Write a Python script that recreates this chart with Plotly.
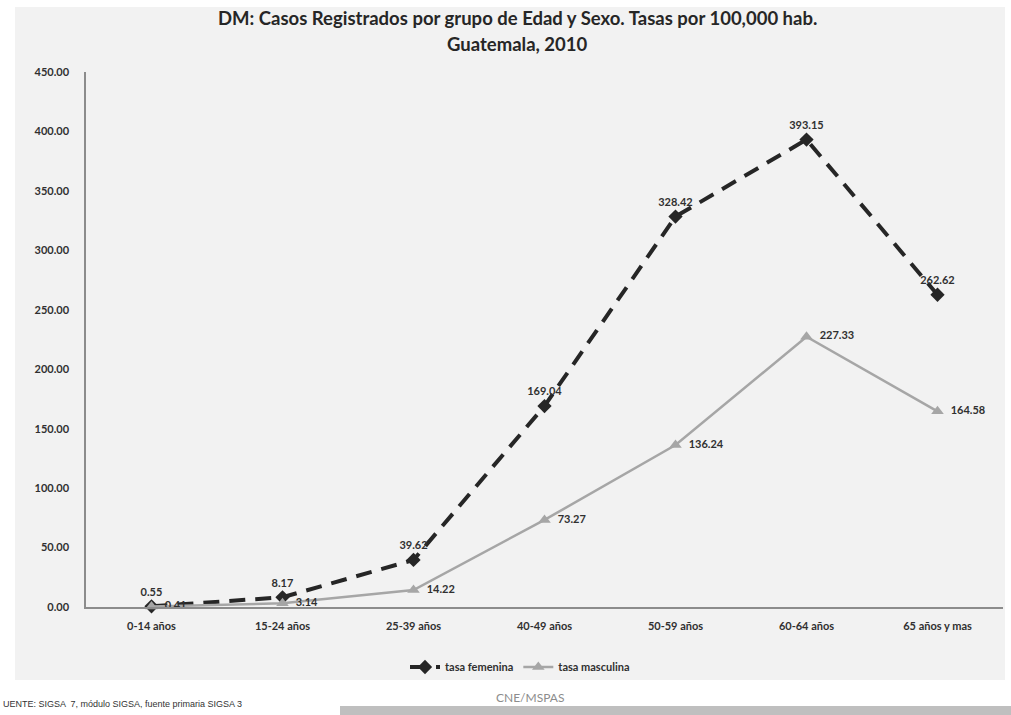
import plotly.graph_objects as go

# Grupos de edad y tasas por 100,000 habitantes
grupos = ["0-14 años", "15-24 años", "25-39 años", "40-49 años",
          "50-59 años", "60-64 años", "65 años y mas"]
tasa_femenina = [0.55, 8.17, 39.62, 169.04, 328.42, 393.15, 262.62]
tasa_masculina = [0.41, 3.14, 14.22, 73.27, 136.24, 227.33, 164.58]

FONT = "Lato, 'Open Sans', sans-serif"
GRIS_FONDO = "#f2f2f2"
TEXTO = "#303030"

# plot area in pixels (1011 x 715 page)
W, H = 1011, 715
L, R, T, B = 86, 8, 72, 108
pw, ph = W - L - R, H - T - B


def px_x(x):
    return (x - L) / pw


def px_y(y):
    return (H - B - y) / ph


fig = go.Figure()

fig.add_trace(go.Scatter(
    x=grupos, y=tasa_femenina, name="tasa femenina",
    mode="lines+markers+text",
    line=dict(color="#262626", width=4, dash="16px,10px"),
    marker=dict(symbol="diamond", size=11, color="#262626"),
    text=[f"{v:.2f}" for v in tasa_femenina],
    textposition="top center",
    textfont=dict(family=FONT, size=11, color=TEXTO, weight="bold"),
    cliponaxis=False,
))

fig.add_trace(go.Scatter(
    x=grupos, y=tasa_masculina, name="tasa masculina",
    mode="lines+markers+text",
    line=dict(color="#a6a6a6", width=2.5),
    marker=dict(symbol="triangle-up", size=11, color="#a6a6a6"),
    text=[f"  {v:.2f}" for v in tasa_masculina],
    textposition="middle right",
    textfont=dict(family=FONT, size=11, color=TEXTO, weight="bold"),
    cliponaxis=False,
))

shapes = [
    # gray chart panel
    dict(type="rect", xref="paper", yref="paper", layer="below",
         x0=px_x(15), x1=px_x(1005), y0=px_y(680), y1=px_y(7),
         fillcolor=GRIS_FONDO, line=dict(width=0)),
    # footer bar
    dict(type="rect", xref="paper", yref="paper", layer="below",
         x0=px_x(340), x1=px_x(1011), y0=px_y(715), y1=px_y(706),
         fillcolor="#bfbfbf", line=dict(width=0)),
]

annotations = [
    dict(text="<b>DM: Casos Registrados por grupo de Edad y Sexo. Tasas por 100,000 hab.</b>",
         xref="paper", yref="paper", x=px_x(517), y=px_y(18),
         xanchor="center", yanchor="middle", showarrow=False,
         font=dict(family=FONT, size=18.5, color="#262626")),
    dict(text="<b>Guatemala, 2010</b>",
         xref="paper", yref="paper", x=px_x(517), y=px_y(44),
         xanchor="center", yanchor="middle", showarrow=False,
         font=dict(family=FONT, size=18.5, color="#262626")),
    dict(text="CNE/MSPAS",
         xref="paper", yref="paper", x=px_x(530), y=px_y(697),
         xanchor="center", yanchor="middle", showarrow=False,
         font=dict(family=FONT, size=12, color="#8c8c8c")),
    dict(text="UENTE: SIGSA  7, módulo SIGSA, fuente primaria SIGSA 3",
         xref="paper", yref="paper", x=px_x(1), y=px_y(704),
         xanchor="left", yanchor="middle", showarrow=False,
         font=dict(family="'Liberation Sans', Arial, sans-serif", size=9, color="#333333")),
]

fig.update_layout(
    width=W, height=H,
    margin=dict(l=L, r=R, t=T, b=B),
    paper_bgcolor="white",
    plot_bgcolor=GRIS_FONDO,
    font=dict(family=FONT, size=11, color=TEXTO),
    showlegend=True,
    legend=dict(orientation="h", x=px_x(520), y=px_y(667),
                xanchor="center", yanchor="middle",
                bgcolor="rgba(0,0,0,0)", itemwidth=30,
                font=dict(family=FONT, size=11, color=TEXTO, weight="bold")),
    shapes=shapes,
    annotations=annotations,
    xaxis=dict(
        type="category", range=[-0.5, 6.5],
        showline=True, linecolor="#8c8c8c", linewidth=1.5,
        showgrid=False, ticks="", zeroline=False, ticklabelstandoff=8,
        tickfont=dict(family=FONT, size=11, color=TEXTO, weight="bold"),
    ),
    yaxis=dict(
        range=[0, 450], dtick=50, tickformat=".2f",
        showline=True, linecolor="#8c8c8c", linewidth=1.5,
        showgrid=False, ticks="", zeroline=False, ticklabelstandoff=13,
        tickfont=dict(family=FONT, size=11, color=TEXTO, weight="bold"),
    ),
)

fig.write_html("out.html")
